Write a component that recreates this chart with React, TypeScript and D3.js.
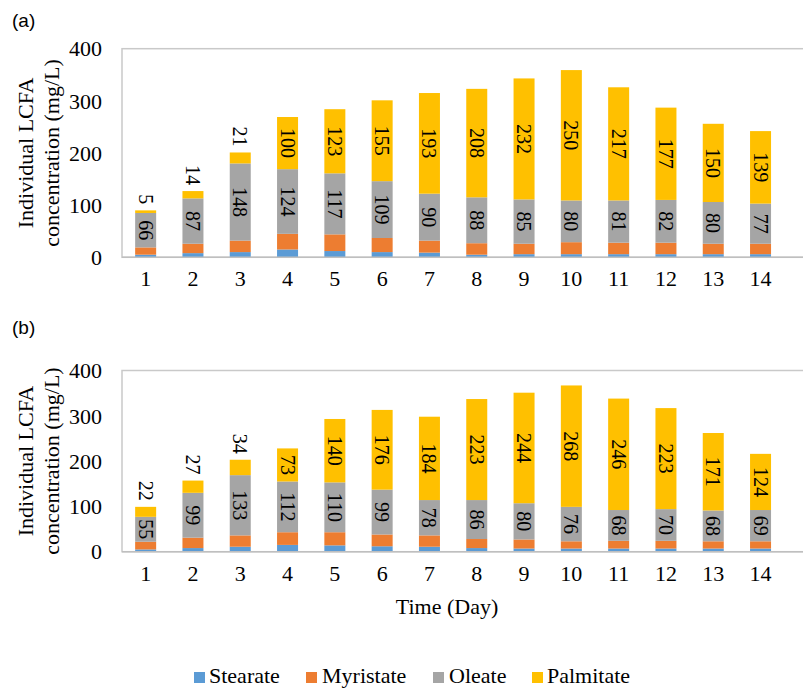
import React from "react";
import * as d3 from "d3";

// Sampling days
const days = ["1", "2", "3", "4", "5", "6", "7", "8", "9", "10", "11", "12", "13", "14"];
const yTicks = [0, 100, 200, 300, 400];
const seriesNames = ["Stearate", "Myristate", "Oleate", "Palmitate"];
const seriesColors = ["#5B9BD5", "#ED7D31", "#A5A5A5", "#FFC000"];

// Panel (a) concentrations, mg/L
const stearateA = [5, 8, 10, 15, 12, 10, 9, 5, 6, 6, 6, 6, 6, 6];
const myristateA = [14, 18, 22, 30, 32, 27, 23, 22, 20, 23, 22, 22, 20, 20];
const oleateA = [66, 87, 148, 124, 117, 109, 90, 88, 85, 80, 81, 82, 80, 77];
const palmitateA = [5, 14, 21, 100, 123, 155, 193, 208, 232, 250, 217, 177, 150, 139];

// Panel (b) concentrations, mg/L
const stearateB = [5, 8, 11, 15, 14, 12, 11, 8, 7, 7, 7, 7, 7, 7];
const myristateB = [17, 23, 25, 28, 29, 26, 25, 20, 20, 16, 17, 17, 16, 16];
const oleateB = [55, 99, 133, 112, 110, 99, 78, 86, 80, 76, 68, 70, 68, 69];
const palmitateB = [22, 27, 34, 73, 140, 176, 184, 223, 244, 268, 246, 223, 171, 124];

const W = 803;
const H = 688;
const SERIF = "'Liberation Serif', 'Times New Roman', serif";
const SANS = "'Liberation Sans', Arial, sans-serif";
const PLOT_LEFT = 122;
const STEP = 47.3;
const LABEL_SIZE = 20;

type PanelProps = {
  tag: string;
  tagY: number;
  top: number;
  bottom: number;
  cols: number[][];
};

function Panel({ tag, tagY, top, bottom, cols }: PanelProps) {
  const x = d3
    .scaleBand<string>()
    .domain(days)
    .range([PLOT_LEFT, PLOT_LEFT + STEP * days.length])
    .paddingInner(0.556)
    .paddingOuter(0.278);
  const y = d3.scaleLinear().domain([0, 400]).range([bottom, top]);

  const rows = days.map((d, i) => {
    const r: Record<string, number | string> = { day: d };
    seriesNames.forEach((s, k) => (r[s] = cols[k][i]));
    return r;
  });
  const stacked = d3.stack<any>().keys(seriesNames)(rows);
  const bw = x.bandwidth();

  return (
    <g>
      <text x={12} y={tagY} fontFamily={SANS} fontSize={19} fill="#000">
        {tag}
      </text>
      {/* plot frame */}
      <rect
        x={PLOT_LEFT}
        y={top}
        width={W + 10 - PLOT_LEFT}
        height={bottom - top}
        fill="none"
        stroke="#c9c9c9"
        strokeWidth={1.5}
      />
      {/* axis title */}
      <g transform={`translate(0, ${(top + bottom) / 2}) rotate(-90)`}>
        <text x={0} y={33} textAnchor="middle" fontFamily={SERIF} fontSize={22} fill="#000">
          Individual LCFA
        </text>
        <text x={0} y={59} textAnchor="middle" fontFamily={SERIF} fontSize={22} fill="#000">
          concentration (mg/L)
        </text>
      </g>
      {yTicks.map((t) => (
        <text
          key={t}
          x={102}
          y={y(t)}
          dy="0.35em"
          textAnchor="end"
          fontFamily={SERIF}
          fontSize={22}
          fill="#000"
        >
          {t}
        </text>
      ))}
      {days.map((d) => (
        <text
          key={d}
          x={(x(d) ?? 0) + bw / 2}
          y={bottom + 29}
          textAnchor="middle"
          fontFamily={SERIF}
          fontSize={22}
          fill="#000"
        >
          {d}
        </text>
      ))}
      {stacked.map((layer, k) => (
        <g key={layer.key} fill={seriesColors[k]}>
          {layer.map((seg, i) => (
            <rect
              key={i}
              x={x(days[i])}
              y={y(seg[1])}
              width={bw}
              height={y(seg[0]) - y(seg[1])}
            />
          ))}
        </g>
      ))}
      {/* value labels for oleate (always centred) and palmitate (above the bar when the segment is short) */}
      {stacked.slice(2).map((layer) =>
        layer.map((seg, i) => {
          const v = seg[1] - seg[0];
          const txt = String(v);
          const len = txt.length * LABEL_SIZE * 0.5;
          const hPx = y(seg[0]) - y(seg[1]);
          const cx = (x(days[i]) ?? 0) + bw / 2;
          const inside = layer.key === "Oleate" || hPx >= len + 6;
          const cy = inside ? (y(seg[0]) + y(seg[1])) / 2 : y(seg[1]) - 6 - len / 2;
          return (
            <text
              key={layer.key + i}
              transform={`translate(${cx}, ${cy}) rotate(90)`}
              textAnchor="middle"
              dy="0.35em"
              fontFamily={SERIF}
              fontSize={LABEL_SIZE}
              fill="#000"
            >
              {txt}
            </text>
          );
        })
      )}
      <line x1={PLOT_LEFT} x2={W} y1={bottom} y2={bottom} stroke="#bfbfbf" strokeWidth={1.5} />
    </g>
  );
}

const legendSquareX = [194, 306, 433, 532];
const legendTextX = [209, 322, 449, 547];

export default function App() {
  return (
    <svg
      width={W}
      height={H}
      viewBox={`0 0 ${W} ${H}`}
      style={{ position: "absolute", left: 0, top: 0, background: "#fff" }}
    >
      <rect width={W} height={H} fill="#fff" />
      <Panel
        tag="(a)"
        tagY={27}
        top={48.7}
        bottom={257.3}
        cols={[stearateA, myristateA, oleateA, palmitateA]}
      />
      <Panel
        tag="(b)"
        tagY={334}
        top={370.5}
        bottom={551.7}
        cols={[stearateB, myristateB, oleateB, palmitateB]}
      />
      <text x={447} y={614} textAnchor="middle" fontFamily={SERIF} fontSize={22} fill="#000">
        Time (Day)
      </text>
      {seriesNames.map((s, k) => (
        <g key={s}>
          <rect x={legendSquareX[k]} y={672} width={11} height={11} fill={seriesColors[k]} />
          <text x={legendTextX[k]} y={683} fontFamily={SERIF} fontSize={22} fill="#000">
            {s}
          </text>
        </g>
      ))}
    </svg>
  );
}
